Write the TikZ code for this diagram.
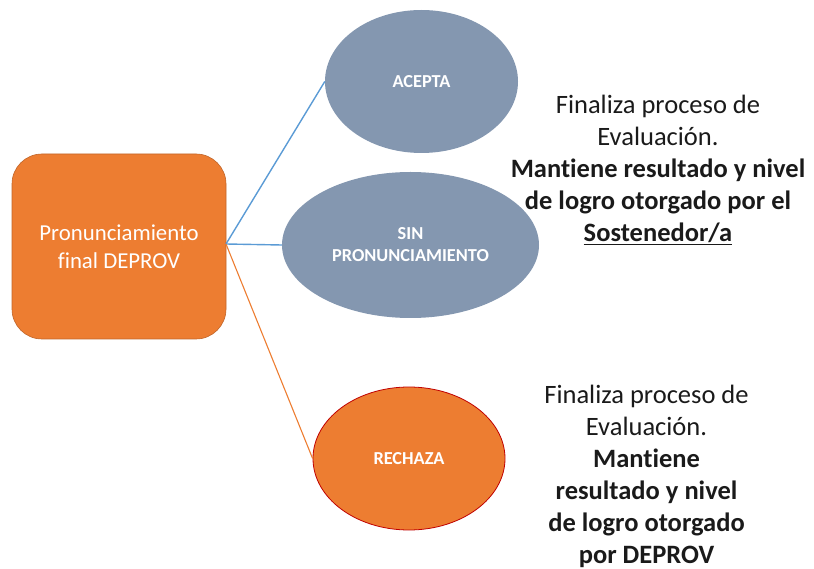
\documentclass[tikz,border=0pt]{standalone}
\usepackage{fontspec}
\setmainfont{Carlito}[Ligatures=NoCommon]
\usetikzlibrary{shapes.geometric}
\definecolor{orangeA}{HTML}{ED7D31}
\definecolor{orangeB}{HTML}{C0652A}
\definecolor{grayblue}{HTML}{8497B0}
\definecolor{lineblue}{HTML}{5B9BD5}
\definecolor{darkred}{HTML}{C00000}
\definecolor{txt}{HTML}{1A1A1A}
\tikzset{
  mainbox/.style={rectangle, rounded corners=30pt, fill=orangeA, draw=orangeB, line width=0.6pt,
    minimum width=214pt, minimum height=185pt, inner sep=0pt, text=white, align=center,
    font=\fontsize{22.8}{28}\selectfont},
  optgray/.style={ellipse, fill=grayblue, draw=none, inner sep=0pt, text=white, align=center,
    font=\fontsize{18.3}{22}\selectfont\bfseries},
  optorange/.style={ellipse, fill=orangeA, draw=darkred, line width=0.8pt, inner sep=0pt, text=white,
    align=center, font=\fontsize{18.3}{22}\selectfont\bfseries},
  bluelink/.style={draw=lineblue, line width=1.4pt},
  orangelink/.style={draw=orangeA, line width=1.1pt},
  note/.style={align=center, text=txt, inner sep=0pt, font=\fontsize{26.5}{32}\selectfont}
}
\begin{document}
\begin{tikzpicture}[x=1pt,y=-1pt]
\useasboundingbox (0,0) rectangle (814,569);
\node[mainbox] (box) at (119,246.5) {Pronunciamiento\\final DEPROV};
\node[optgray, minimum width=193pt, minimum height=143pt] (acepta) at (421.5,81.5) {ACEPTA};
\node[optgray, minimum width=257pt, minimum height=146pt] (sin) at (410.5,245) {SIN\\PRONUNCIAMIENTO};
\node[optorange, minimum width=192pt, minimum height=143pt] (rechaza) at (409,458.5) {RECHAZA};
\coordinate (hub) at (226,244);
\draw[bluelink] (hub) -- (acepta.west);
\draw[bluelink] (hub) -- (sin.west);
\draw[orangelink] (hub) -- (rechaza.west);
\node[note] (t1) at (658,170) {Finaliza proceso de\\Evaluación.\\\textbf{Mantiene resultado y nivel}\\\textbf{de logro otorgado por el}\\\textbf{\underline{Sostenedor/a}}};
\node[note] (t2) at (646.5,476) {Finaliza proceso de\\Evaluación.\\\textbf{Mantiene}\\\textbf{resultado y nivel}\\\textbf{de logro otorgado}\\\textbf{por DEPROV}};
\end{tikzpicture}
\end{document}
